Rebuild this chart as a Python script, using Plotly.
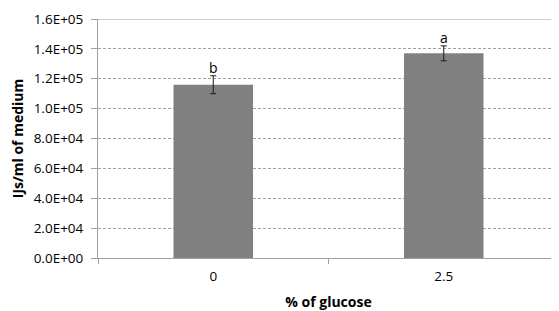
import plotly.graph_objects as go

categories = ["0", "2.5"]
values = [116000, 137000]
errors = [6000, 5000]
letters = ["b", "a"]
y_ticks = [0, 20000, 40000, 60000, 80000, 100000, 120000, 140000, 160000]
y_ticklabels = ["0.0E+00", "2.0E+04", "4.0E+04", "6.0E+04", "8.0E+04",
                "1.0E+05", "1.2E+05", "1.4E+05", "1.6E+05"]

font = "'Open Sans', sans-serif"

fig = go.Figure()
fig.add_trace(go.Bar(
    x=categories, y=values,
    marker=dict(color="#808080", line=dict(width=0)),
    error_y=dict(type="data", array=errors, visible=True, color="#1a1a1a",
                 thickness=1, width=3),
    showlegend=False,
))

for i, (v, e, t) in enumerate(zip(values, errors, letters)):
    fig.add_annotation(x=i, y=v + e, text=t, showarrow=False,
                       yanchor="bottom", yshift=-3,
                       font=dict(family=font, size=14, color="#000"))

fig.add_shape(type="line", xref="paper", x0=0, x1=1, yref="y", y0=160000, y1=160000,
              line=dict(color="#a0a0a0", width=1))

fig.update_layout(
    width=551, height=303,
    margin=dict(l=90, r=0, t=11, b=53),
    plot_bgcolor="white", paper_bgcolor="white",
    bargap=0.655,
    font=dict(family=font, size=13.5, color="#000"),
    xaxis=dict(
        type="category", range=[-0.5, 1.5], tickson="boundaries", ticks="outside",
        ticklen=5, tickcolor="#a0a0a0", showline=True, linecolor="#a0a0a0",
        linewidth=1, showgrid=False, tickfont=dict(size=13.5), automargin=False,
        ticklabelstandoff=6,
        title=dict(text="<b>% of glucose</b>", standoff=16, font=dict(size=14)),
    ),
    yaxis=dict(
        range=[0, 160000], tickvals=y_ticks, ticktext=y_ticklabels,
        ticks="outside", ticklen=6, tickcolor="#a0a0a0",
        showline=True, linecolor="#a0a0a0", linewidth=1, automargin=False,
        showgrid=True, gridcolor="#a0a0a0", griddash="3px,2px", gridwidth=1,
        zeroline=False, tickfont=dict(size=13.5), ticklabelstandoff=5,
        title=dict(text="<b>IJs/ml of medium</b>", standoff=12, font=dict(size=14)),
    ),
)

fig.write_html("out.html")
